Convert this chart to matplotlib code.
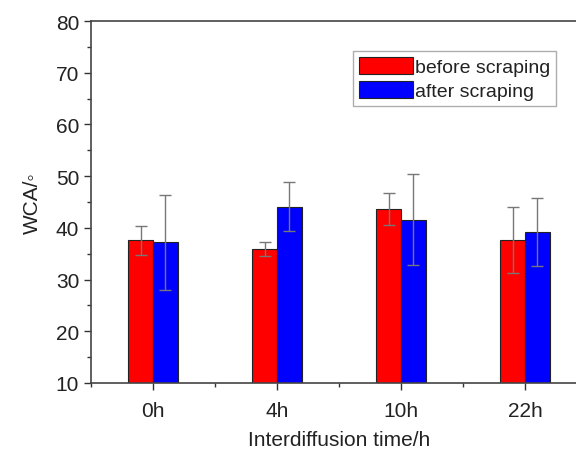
import matplotlib
matplotlib.use("Agg")
import matplotlib.pyplot as plt
import numpy as np
from matplotlib.ticker import MultipleLocator

plt.rcParams['font.family'] = ['Liberation Sans', 'DejaVu Sans']

categories = ["0h", "4h", "10h", "22h"]
before = [37.6, 35.9, 43.6, 37.6]
before_err = [2.8, 1.4, 3.1, 6.4]
after = [37.2, 44.1, 41.6, 39.2]
after_err = [9.2, 4.7, 8.8, 6.6]
series_labels = ["before scraping", "after scraping"]

fig = plt.figure(figsize=(5.76, 4.52), dpi=100)
ax = fig.add_axes([91/576, 68/452, 496/576, 362/452])

x = np.arange(len(categories))
w = 0.2
ekw = dict(ecolor="#777777", elinewidth=1.0, capsize=4, capthick=1.0)
ax.bar(x - w/2, before, w, yerr=before_err, color="#ff0000", edgecolor="#222222",
       linewidth=0.8, label=series_labels[0], error_kw=ekw)
ax.bar(x + w/2, after, w, yerr=after_err, color="#0000ff", edgecolor="#222222",
       linewidth=0.8, label=series_labels[1], error_kw=ekw)

ax.set_xlim(-0.5, 3.5)
ax.set_ylim(10, 80)
ax.set_xticks(x)
ax.set_xticklabels(categories)
ax.xaxis.set_minor_locator(MultipleLocator(0.5))
ax.yaxis.set_major_locator(MultipleLocator(10))
ax.yaxis.set_minor_locator(MultipleLocator(5))
ax.tick_params(axis='both', which='major', labelsize=15, length=5, width=1, direction='out', colors='#333333')
ax.tick_params(axis='x', which='major', pad=8)
ax.tick_params(axis='both', which='minor', length=3, width=1, direction='out', colors='#333333')
for lab in ax.get_xticklabels() + ax.get_yticklabels():
    lab.set_color('#222222')
for s in ax.spines.values():
    s.set_color('#444444')
    s.set_linewidth(1.2)
ax.spines['right'].set_visible(False)

ax.set_xlabel("Interdiffusion time/h", fontsize=15, color='#222222', labelpad=7)
ax.set_ylabel("WCA/◦", fontsize=15, color='#222222', labelpad=10)

leg = ax.legend(loc='upper left', bbox_to_anchor=((353-91)/496, (384-52)/362),
                fontsize=14, frameon=True, fancybox=False, borderpad=0.3,
                handlelength=2.8, handleheight=1.0, handletextpad=0.1, labelspacing=0.25,
                borderaxespad=0)
leg.get_frame().set_edgecolor('#999999')
leg.get_frame().set_linewidth(1.0)
for t in leg.get_texts():
    t.set_color('#222222')

fig.savefig("out.png", dpi=100)
